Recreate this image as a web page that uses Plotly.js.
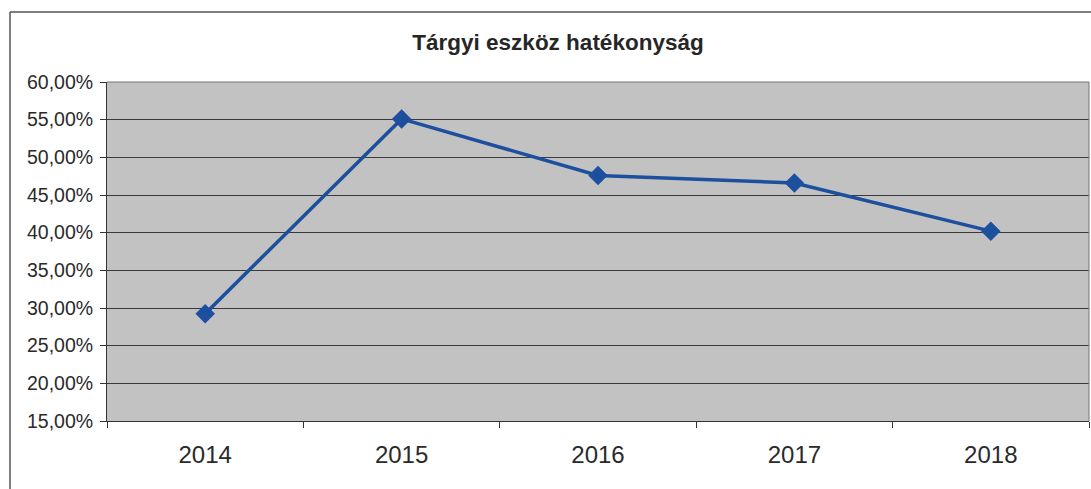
<!DOCTYPE html>
<html><head><meta charset="utf-8">
<script src="https://cdn.plot.ly/plotly-3.0.1.min.js"></script>
<style>html,body{margin:0;padding:0;background:#fff;}#chart{width:1091px;height:489px;}</style>
</head><body><div id="chart"></div>
<script>
const years = ['2014', '2015', '2016', '2017', '2018'];
const efficiency = [0.2925, 0.551, 0.476, 0.466, 0.402];
const yTicks = [0.15, 0.20, 0.25, 0.30, 0.35, 0.40, 0.45, 0.50, 0.55, 0.60];
const chartTitle = 'Tárgyi eszköz hatékonyság';

const W = 1091, H = 489, L = 107, R = 2, T = 82, B = 68;
const pw = W - L - R, ph = H - T - B;
const px = v => (v - L) / pw;
const py = v => 1 - (v - T) / ph;

Plotly.newPlot('chart', [{
  x: years, y: efficiency, type: 'scatter', mode: 'lines+markers',
  line: {color: '#1d4f9f', width: 3.5},
  marker: {symbol: 'diamond', size: 15, color: '#1d4f9f'},
  hoverinfo: 'skip'
}], {
  width: W, height: H,
  margin: {l: L, r: R, t: T, b: B, pad: 0},
  paper_bgcolor: '#ffffff', plot_bgcolor: '#c2c2c2',
  separators: ', ',
  showlegend: false,
  title: {text: '<b>' + chartTitle + '</b>', x: 558 / W, xanchor: 'center', y: 1 - 42 / H, yanchor: 'middle',
          font: {family: 'Liberation Sans, Arial', size: 22.5, color: '#262626'}},
  xaxis: {
    type: 'category', range: [-0.5, 4.5], tickson: 'boundaries',
    ticks: 'outside', ticklen: 6, tickcolor: '#333', tickwidth: 1,
    showline: true, linecolor: '#333', linewidth: 1, showgrid: false, zeroline: false,
    tickfont: {family: 'Liberation Sans, Arial', size: 24, color: '#2a2a2a'},
    ticklabelstandoff: 12
  },
  yaxis: {
    range: [0.15, 0.60], tickvals: yTicks, tickformat: '.2%',
    ticks: 'outside', ticklen: 6, tickcolor: '#333', tickwidth: 1,
    showline: true, linecolor: '#333', linewidth: 1,
    showgrid: true, gridcolor: '#3a3a3a', gridwidth: 1, zeroline: false,
    tickfont: {family: 'Liberation Sans, Arial', size: 19.5, color: '#2a2a2a'},
    ticklabelstandoff: 3
  },
  shapes: [
    {type: 'line', xref: 'paper', yref: 'paper', x0: px(10), x1: px(1091), y0: py(12), y1: py(12), line: {color: '#555', width: 1.5}},
    {type: 'line', xref: 'paper', yref: 'paper', x0: px(10), x1: px(10), y0: py(12), y1: py(489), line: {color: '#555', width: 1.5}},
    {type: 'line', xref: 'paper', yref: 'paper', x0: 1, x1: 1, y0: 0, y1: 1, line: {color: '#777', width: 1}},
    {type: 'line', xref: 'paper', yref: 'paper', x0: 0, x1: 1, y0: 1, y1: 1, line: {color: '#777', width: 1}}
  ]
}, {staticPlot: true});
</script></body></html>
